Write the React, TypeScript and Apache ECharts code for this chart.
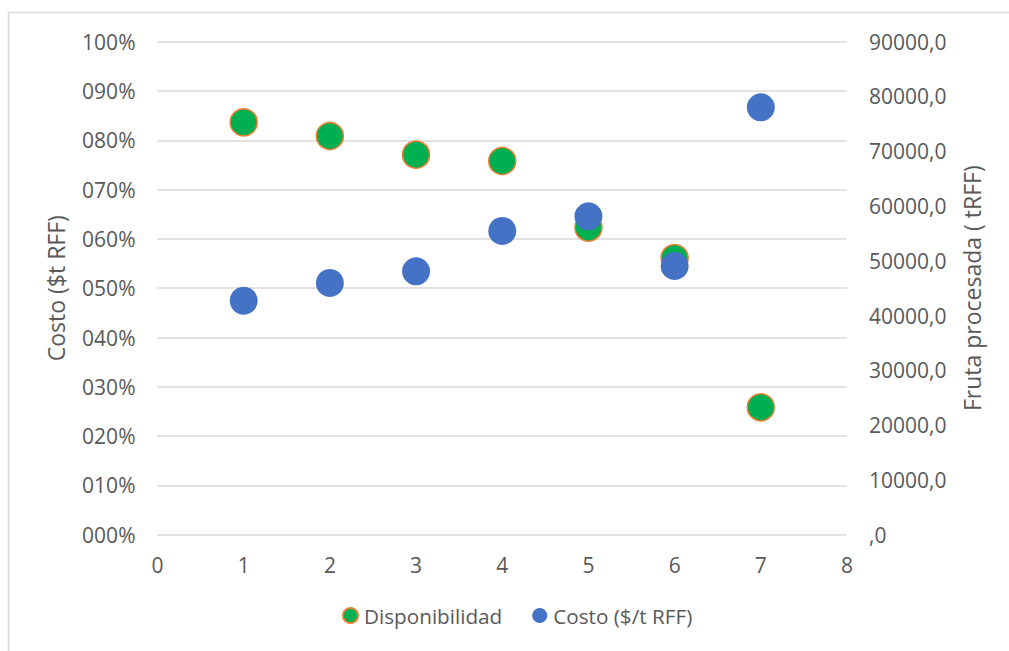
import React, { useEffect, useRef } from "react";
import * as echarts from "echarts";

const xValues = [1, 2, 3, 4, 5, 6, 7];
const disponibilidad = [0.8365, 0.8087, 0.7708, 0.758, 0.623, 0.561, 0.2584];
const costo = [42718, 45950, 48085, 55443, 58125, 49053, 78025];
const xTicks = [0, 1, 2, 3, 4, 5, 6, 7, 8];

const FONT = "'Open Sans', 'Noto Sans', sans-serif";
const TXT = "#595959";

export default function App() {
  const ref = useRef<HTMLDivElement>(null);
  useEffect(() => {
    if (!ref.current) return;
    const chart = echarts.init(ref.current, undefined, { renderer: "svg" });
    chart.setOption({
      animation: false,
      backgroundColor: "#ffffff",
      textStyle: { fontFamily: FONT },
      graphic: [
        {
          type: "rect",
          shape: { x: 8.5, y: 12.5, width: 1100, height: 700 },
          style: { fill: "none", stroke: "#d9d9d9", lineWidth: 1.5 },
          silent: true,
          z: -10,
        },
      ],
      grid: { left: 157.5, right: 162, top: 41.7, bottom: 116.3 },
      legend: {
        bottom: 20,
        left: 337,
        itemWidth: 15,
        itemHeight: 15,
        itemGap: 30,
        textStyle: { color: TXT, fontSize: 20.7, fontFamily: FONT, padding: [0, 0, 0, 1] },
        data: [
          { name: "Disponibilidad", icon: "circle" },
          { name: "Costo ($/t RFF)", icon: "circle" },
        ],
      },
      xAxis: {
        type: "value",
        min: 0,
        max: 8,
        interval: 1,
        axisLine: { show: false },
        axisTick: { show: false },
        splitLine: { show: false },
        axisLabel: {
          color: TXT,
          fontSize: 21,
          fontFamily: FONT,
          margin: 20,
          formatter: (v: number) => (xTicks.includes(v) ? String(v) : ""),
        },
      },
      yAxis: [
        {
          type: "value",
          min: 0,
          max: 1,
          interval: 0.1,
          name: "Costo ($t RFF)",
          nameLocation: "middle",
          nameGap: 90,
          nameTextStyle: { color: TXT, fontSize: 23, fontFamily: FONT },
          axisLine: { show: false },
          axisTick: { show: false },
          splitLine: { show: true, lineStyle: { color: "#d9d9d9", width: 1.5 } },
          axisLabel: {
            color: TXT,
            fontSize: 21,
            fontFamily: FONT,
            margin: 22,
            formatter: (v: number) => String(Math.round(v * 100)).padStart(3, "0") + "%",
          },
        },
        {
          type: "value",
          min: 0,
          max: 90000,
          interval: 10000,
          position: "right",
          name: "Fruta procesada ( tRFF)",
          nameLocation: "middle",
          nameGap: 113,
          nameTextStyle: { color: TXT, fontSize: 23, fontFamily: FONT },
          axisLine: { show: false },
          axisTick: { show: false },
          splitLine: { show: false },
          axisLabel: {
            color: TXT,
            fontSize: 21,
            fontFamily: FONT,
            margin: 22,
            formatter: (v: number) => (v === 0 ? ",0" : String(v) + ",0"),
          },
        },
      ],
      series: [
        {
          name: "Disponibilidad",
          type: "scatter",
          yAxisIndex: 0,
          symbol: "circle",
          symbolSize: 27,
          itemStyle: { color: "#00B050", borderColor: "#ED7D31", borderWidth: 1.5, opacity: 1 },
          data: xValues.map((x, i) => [x, disponibilidad[i]]),
        },
        {
          name: "Costo ($/t RFF)",
          type: "scatter",
          yAxisIndex: 1,
          symbol: "circle",
          symbolSize: 28,
          itemStyle: { color: "#4472C4", opacity: 1 },
          data: xValues.map((x, i) => [x, costo[i]]),
        },
      ],
    });
    return () => chart.dispose();
  }, []);
  return (
    <div
      ref={ref}
      style={{ position: "fixed", left: 0, top: 0, width: 1009, height: 651 }}
    />
  );
}
